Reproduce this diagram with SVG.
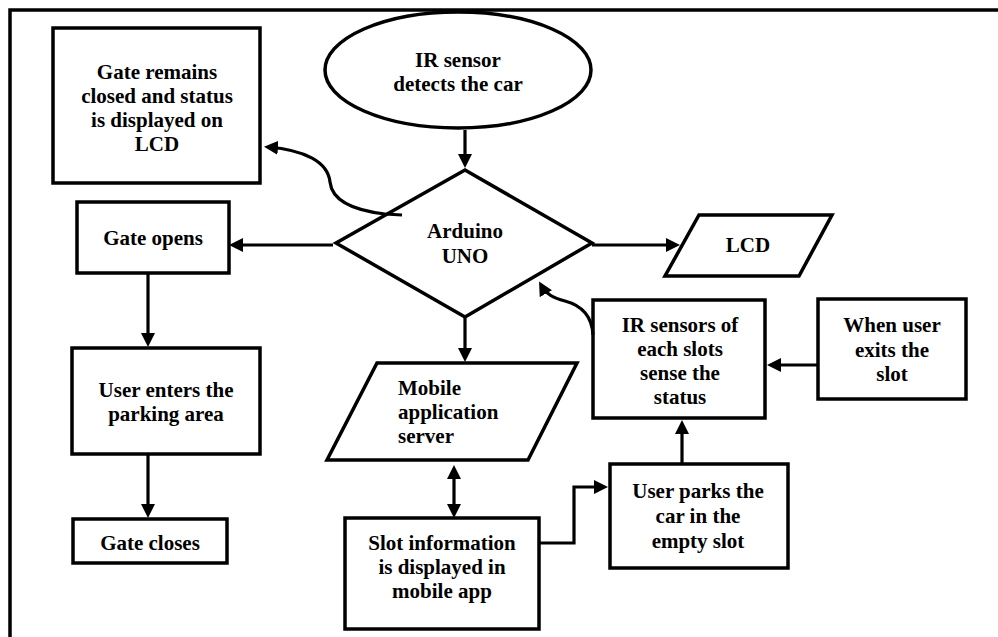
<svg xmlns="http://www.w3.org/2000/svg" width="998" height="637" viewBox="0 0 998 637">
<style>
.n{fill:#fff;stroke:#000;stroke-width:3.5;stroke-linejoin:miter}
.c{fill:none;stroke:#000;stroke-width:3.2}
.m{text-anchor:middle}
</style>
<defs>
<marker id="ah" markerWidth="15" markerHeight="15" refX="10" refY="7" orient="auto-start-reverse" markerUnits="userSpaceOnUse">
<path d="M0,0 L14,7 L0,14 z" fill="#000"/>
</marker>
</defs>
<rect width="998" height="637" fill="#fff"/>
<g id="frame"><path d="M10,637 L10,10 L998,10" fill="none" stroke="#000" stroke-width="3.5"/></g>
<g font-family="Liberation Serif, serif" font-weight="bold" font-size="21">
<g id="n-ir-start"><ellipse class="n" cx="458" cy="70" rx="133" ry="58"/>
<text class="m" x="458" y="67">IR sensor</text><text class="m" x="458" y="91">detects the car</text></g>

<g id="n-gate-remains"><rect class="n" x="53" y="28" width="207" height="155"/>
<text class="m" x="157" y="79">Gate remains</text><text class="m" x="157" y="103">closed and status</text><text class="m" x="157" y="127">is displayed on</text><text class="m" x="157" y="151">LCD</text></g>

<g id="n-arduino"><polygon class="n" points="465,170 592,243 465,317 336,243"/>
<text class="m" x="465" y="238">Arduino</text><text class="m" x="465" y="263">UNO</text></g>

<g id="n-gate-opens"><rect class="n" x="77" y="202" width="152" height="71"/>
<text class="m" x="153" y="245">Gate opens</text></g>

<g id="n-lcd"><polygon class="n" points="699,215 832,215 799,276 665,276"/>
<text class="m" x="748" y="252">LCD</text></g>

<g id="n-user-enters"><rect class="n" x="72" y="348" width="188" height="106"/>
<text class="m" x="166" y="397">User enters the</text><text class="m" x="166" y="421">parking area</text></g>

<g id="n-gate-closes"><rect class="n" x="73" y="519" width="154" height="44"/>
<text class="m" x="150" y="550">Gate closes</text></g>

<g id="n-mobile"><polygon class="n" points="377,363 577,363 528,460 327,460"/>
<text x="398" y="395">Mobile</text><text x="398" y="419">application</text><text x="398" y="443">server</text></g>

<g id="n-slot-info"><rect class="n" x="345" y="518" width="194" height="111"/>
<text class="m" x="442" y="550">Slot information</text><text class="m" x="442" y="574">is displayed in</text><text class="m" x="442" y="598">mobile app</text></g>

<g id="n-ir-slots"><rect class="n" x="593" y="300" width="172" height="118"/>
<text class="m" x="680" y="332">IR sensors of</text><text class="m" x="680" y="356">each slots</text><text class="m" x="680" y="380">sense the</text><text class="m" x="680" y="404">status</text></g>

<g id="n-user-exits"><rect class="n" x="818" y="299" width="148" height="100"/>
<text class="m" x="892" y="332">When user</text><text class="m" x="892" y="357">exits the</text><text class="m" x="892" y="381">slot</text></g>

<g id="n-user-parks"><rect class="n" x="610" y="464" width="178" height="104"/>
<text class="m" x="698" y="498">User parks the</text><text class="m" x="698" y="523">car in the</text><text class="m" x="698" y="548">empty slot</text></g>
</g>
<g id="connectors">
<path class="c" d="M465,130 L465,164" marker-end="url(#ah)"/>
<path class="c" d="M333,245 L233,245" marker-end="url(#ah)"/>
<path class="c" d="M592,245 L676,245" marker-end="url(#ah)"/>
<path class="c" d="M465,317 L465,358" marker-end="url(#ah)"/>
<path class="c" d="M148,273 L148,343" marker-end="url(#ah)"/>
<path class="c" d="M148,454 L148,514" marker-end="url(#ah)"/>
<path class="c" d="M454,469 L454,514" marker-start="url(#ah)" marker-end="url(#ah)"/>
<path class="c" d="M539,543 L574,543 L574,487 L604,487" marker-end="url(#ah)"/>
<path class="c" d="M682,464 L682,424" marker-end="url(#ah)"/>
<path class="c" d="M818,365 L771,365" marker-end="url(#ah)"/>
<path class="c" d="M402,215 L385,214 C350,210 332,200 330,182 C328,162 305,150 268,147" marker-end="url(#ah)"/>
<path class="c" d="M593,335 C592,315 580,305 565,301 C553,298 546,294 541,285" marker-end="url(#ah)"/>
</g>
</svg>
